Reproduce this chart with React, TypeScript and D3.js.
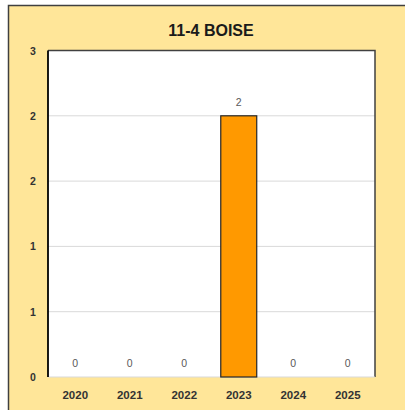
import React from "react";
import * as d3 from "d3";

const title = "11-4 BOISE";
const years = ["2020", "2021", "2022", "2023", "2024", "2025"];
const counts = [0, 0, 0, 2, 0, 0];
const yTicks = [0, 0.5, 1, 1.5, 2, 2.5];
const yMax = 2.5;

export default function App() {
  const W = 405, H = 410;
  const plot = { left: 48, right: 375, top: 50.5, bottom: 377 };
  const x = d3.scaleBand<string>().domain(years).range([plot.left, plot.right]).paddingInner(0.34).paddingOuter(0.17);
  const y = d3.scaleLinear().domain([0, yMax]).range([plot.bottom, plot.top]);
  const fmt = (v: number) => String(Math.round(v + 1e-9));
  const font = "'Liberation Sans', Arial, sans-serif";
  return (
    <svg width={W} height={H} style={{ position: "absolute", left: 0, top: 0 }} fontFamily={font}>
      <rect x={0} y={0} width={W} height={H} fill="#ffffff" />
      <rect x={8.5} y={5.5} width={420} height={420} fill="#FFE699" stroke="#404040" strokeWidth={1.5} />
      <text x={211} y={36} textAnchor="middle" fontSize={16} fontWeight="bold" fill="#1a1a1a">{title}</text>
      <rect x={plot.left} y={plot.top} width={plot.right - plot.left} height={plot.bottom - plot.top} fill="#ffffff" />
      {yTicks.filter(t => t > 0).map(t => (
        <line key={t} x1={plot.left} x2={plot.right} y1={y(t)} y2={y(t)} stroke="#d9d9d9" strokeWidth={1} />
      ))}
      {/* plot border top and right */}
      <path d={`M${plot.left},${plot.top}H${plot.right}V${plot.bottom}`} fill="none" stroke="#404040" strokeWidth={1.5} />
      <line x1={plot.left} x2={plot.right} y1={plot.bottom} y2={plot.bottom} stroke="#d9d9d9" strokeWidth={1} />
      {years.map((yr, i) => (
        counts[i] > 0 ? (
          <rect key={yr} x={x(yr)!} y={y(counts[i])} width={x.bandwidth()} height={y(0) - y(counts[i])} fill="#FF9900" stroke="#262626" strokeWidth={1.2} />
        ) : null
      ))}
      <line x1={plot.left} x2={plot.left} y1={plot.top} y2={plot.bottom} stroke="#000000" strokeWidth={1.8} />
      {years.map((yr, i) => (
        <text key={"v" + yr} x={x(yr)! + x.bandwidth() / 2} y={y(counts[i]) - 10} textAnchor="middle" fontSize={10.5} fill="#595959">{counts[i]}</text>
      ))}
      {yTicks.concat([]).map(t => (
        <text key={"t" + t} x={33} y={y(t) + 4} textAnchor="middle" fontSize={10.5} fontWeight="bold" fill="#333333">{fmt(t)}</text>
      ))}
      <text x={33} y={y(3) + 4} textAnchor="middle" fontSize={10.5} fontWeight="bold" fill="#333333" display="none">3</text>
      {years.map(yr => (
        <text key={"x" + yr} x={x(yr)! + x.bandwidth() / 2} y={399} textAnchor="middle" fontSize={11.5} fontWeight="bold" fill="#333333">{yr}</text>
      ))}
    </svg>
  );
}
